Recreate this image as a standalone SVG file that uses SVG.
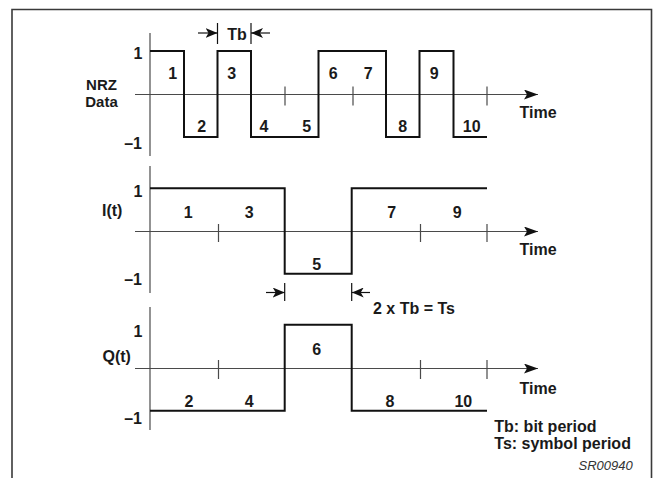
<svg xmlns="http://www.w3.org/2000/svg" width="654" height="478" viewBox="0 0 654 478">
  <style>
    text { font-family: "Liberation Sans", Arial, sans-serif; font-weight: bold; font-size: 16px; fill: #1a1a1a; }
    .mid { text-anchor: middle; }
    .end { text-anchor: end; }
    .name { font-size: 15px; }
    .tag { font-weight: normal; font-style: italic; font-size: 13px; fill: #333; }
    .frame { fill: none; stroke: #3a3a3a; stroke-width: 1.6; }
    .axis { fill: none; stroke: #4a4a4a; stroke-width: 1.2; }
    .wave { fill: none; stroke: #111; stroke-width: 2; stroke-linejoin: miter; }
    .dim { fill: none; stroke: #111; stroke-width: 1.2; }
  </style>
  <defs>
    <marker id="head" viewBox="0 0 14 10" refX="14" refY="5" markerWidth="14" markerHeight="10" markerUnits="userSpaceOnUse" orient="auto">
      <path d="M0,0 L14,5 L0,10 L3,5 Z" fill="#111"/>
    </marker>
    <marker id="dimhead" viewBox="0 0 12 10" refX="12" refY="5" markerWidth="12" markerHeight="10" markerUnits="userSpaceOnUse" orient="auto">
      <path d="M0,0 L12,5 L0,10 L3,5 Z" fill="#111"/>
    </marker>
  </defs>

  <!-- outer frame, open at the bottom -->
  <path class="frame" d="M12,478 V9.5 H651.5 V478"/>

  <g id="connectors">
    <!-- NRZ axes -->
    <line class="axis" x1="150" y1="33" x2="150" y2="156"/>
    <line class="axis" x1="135" y1="94.5" x2="538" y2="94.5" marker-end="url(#head)"/>
    <path class="axis" d="M285,86.5 V105.5 M353,86.5 V105.5 M487,86.5 V105.5"/>
    <!-- I(t) axes -->
    <line class="axis" x1="150" y1="166" x2="150" y2="293"/>
    <line class="axis" x1="135" y1="231.5" x2="538" y2="231.5" marker-end="url(#head)"/>
    <path class="axis" d="M218.5,224 V242 M420.5,224 V242 M487,224 V242"/>
    <!-- Q(t) axes -->
    <line class="axis" x1="150" y1="307" x2="150" y2="430"/>
    <line class="axis" x1="135" y1="368.5" x2="538" y2="368.5" marker-end="url(#head)"/>
    <path class="axis" d="M218.5,360 V379 M420.5,360 V379 M487,360 V379"/>

    <!-- bit period dimension -->
    <path class="dim" d="M217.5,23 V44 M251,23 V44"/>
    <line class="dim" x1="198" y1="33" x2="217.5" y2="33" marker-end="url(#dimhead)"/>
    <line class="dim" x1="270" y1="33" x2="251" y2="33" marker-end="url(#dimhead)"/>

    <!-- symbol period dimension -->
    <path class="dim" d="M284.7,283 V301 M351.7,283 V301"/>
    <line class="dim" x1="266" y1="292.5" x2="284.7" y2="292.5" marker-end="url(#dimhead)"/>
    <line class="dim" x1="370" y1="292.5" x2="351.7" y2="292.5" marker-end="url(#dimhead)"/>
  </g>

  <g id="nrz">
    <path class="wave" d="M150,51 H184 V137 H217.5 V51 H251 V137 H318.5 V51 H386 V137 H419.5 V51 H453.5 V137 H487"/>
    <text class="mid" x="138" y="59">1</text>
    <text class="end" x="142" y="149">–1</text>
    <text class="mid name" x="101.5" y="90">NRZ</text>
    <text class="mid name" x="101.5" y="107">Data</text>
    <text class="mid" x="237" y="40">Tb</text>
    <text class="mid" x="172.7" y="78.5">1</text>
    <text class="mid" x="231.7" y="78.5">3</text>
    <text class="mid" x="333.3" y="78.5">6</text>
    <text class="mid" x="368.3" y="78.5">7</text>
    <text class="mid" x="434.3" y="78.5">9</text>
    <text class="mid" x="201.7" y="131.5">2</text>
    <text class="mid" x="264" y="131.5">4</text>
    <text class="mid" x="306.7" y="131.5">5</text>
    <text class="mid" x="402.7" y="131.5">8</text>
    <text class="mid" x="471.7" y="131.5">10</text>
    <text class="mid" x="538" y="118.3">Time</text>
  </g>

  <g id="i-channel">
    <path class="wave" d="M150,188.3 H284.7 V273.7 H351.7 V188.3 H487"/>
    <text class="mid" x="138" y="196.7">1</text>
    <text class="end" x="142" y="285">–1</text>
    <text x="102" y="216">I(t)</text>
    <text class="mid" x="188.3" y="218">1</text>
    <text class="mid" x="249.3" y="218">3</text>
    <text class="mid" x="391.7" y="218">7</text>
    <text class="mid" x="457.3" y="218">9</text>
    <text class="mid" x="316.7" y="270">5</text>
    <text class="mid" x="538" y="255">Time</text>
    <text class="mid" x="414" y="314">2 x Tb = Ts</text>
  </g>

  <g id="q-channel">
    <path class="wave" d="M150,410.7 H284.7 V324.7 H351.7 V410.7 H487"/>
    <text class="mid" x="138" y="336.7">1</text>
    <text class="end" x="142" y="424">–1</text>
    <text x="102.5" y="361.7">Q(t)</text>
    <text class="mid" x="189" y="407.3">2</text>
    <text class="mid" x="249.3" y="407.3">4</text>
    <text class="mid" x="316.7" y="355">6</text>
    <text class="mid" x="390" y="406.7">8</text>
    <text class="mid" x="463.3" y="406.7">10</text>
    <text class="mid" x="538" y="394">Time</text>
  </g>

  <g id="legend">
    <text x="494.3" y="431.7">Tb: bit period</text>
    <text x="494.3" y="449.3">Ts: symbol period</text>
    <text class="tag end" x="632.7" y="470">SR00940</text>
  </g>
</svg>
